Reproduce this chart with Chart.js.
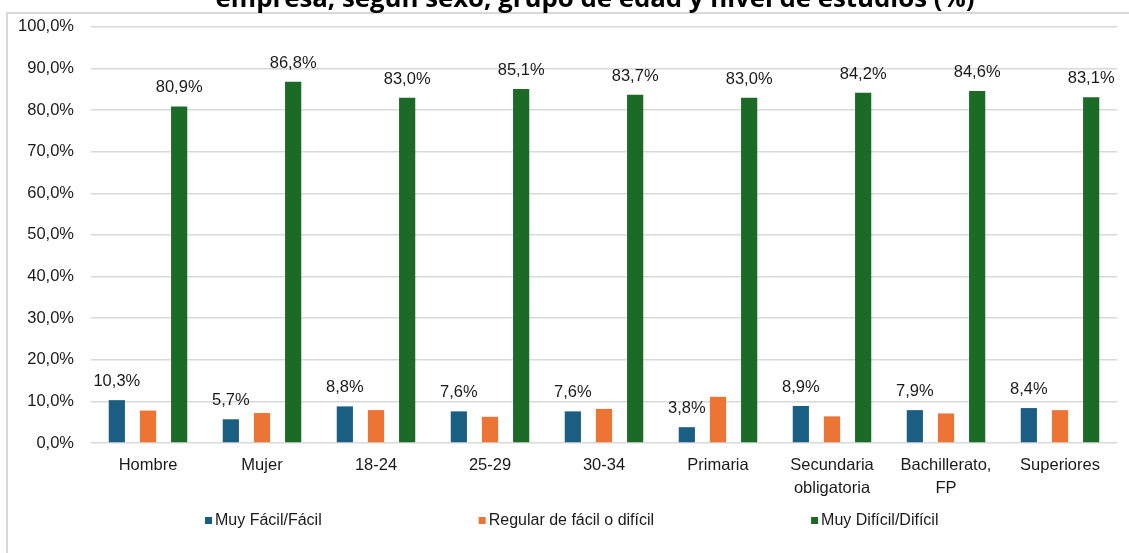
<!DOCTYPE html>
<html>
<head>
<meta charset="utf-8">
<script src="https://cdn.jsdelivr.net/npm/chart.js@4"></script>
<style>
  html, body { margin: 0; padding: 0; background: #fff; }
  #wrap { position: relative; width: 1129px; height: 553px; }
</style>
</head>
<body>
<div id="wrap"><canvas id="chart" width="1129" height="553"></canvas></div>
<script>
const titleLine = 'empresa, según sexo, grupo de edad y nivel de estudios (%)';
const categories = ['Hombre', 'Mujer', '18-24', '25-29', '30-34', 'Primaria',
  ['Secundaria', 'obligatoria'], ['Bachillerato,', 'FP'], 'Superiores'];
const seriesNames = ['Muy Fácil/Fácil', 'Regular de fácil o difícil', 'Muy Difícil/Difícil'];
const facil = [10.3, 5.7, 8.8, 7.6, 7.6, 3.8, 8.9, 7.9, 8.4];
const regular = [7.8, 7.2, 7.9, 6.3, 8.2, 11.1, 6.4, 7.1, 7.9];
const dificil = [80.9, 86.8, 83.0, 85.1, 83.7, 83.0, 84.2, 84.6, 83.1];
const showValues = [true, false, true];
const colors = ['#1a5f82', '#ec7434', '#1b6b27'];

const FONT = '"Liberation Sans", Arial, sans-serif';
const TEXT = '#1a1a1a';
const pct = v => v.toFixed(1).replace('.', ',') + '%';

// frame, clipped title line, custom legend and value labels
const decor = {
  id: 'decor',
  beforeDraw(chart) {
    const ctx = chart.ctx;
    ctx.save();
    ctx.strokeStyle = '#d9d9d9';
    ctx.lineWidth = 2;
    ctx.beginPath();
    ctx.moveTo(1129, 13);
    ctx.lineTo(7, 13);
    ctx.lineTo(7, 553);
    ctx.stroke();

    ctx.fillStyle = '#000';
    ctx.font = 'bold 20px "Open Sans", sans-serif';
    const w = ctx.measureText(titleLine).width;
    const size = 20 * 760 / w;
    ctx.font = 'bold ' + size.toFixed(1) + 'px "Open Sans", sans-serif';
    ctx.textAlign = 'center';
    ctx.textBaseline = 'alphabetic';
    ctx.fillText(titleLine, 595, 7);
    ctx.restore();
  },
  afterDatasetsDraw(chart) {
    const ctx = chart.ctx;
    ctx.save();
    ctx.font = '16.5px ' + FONT;
    ctx.fillStyle = TEXT;
    ctx.textAlign = 'center';
    ctx.textBaseline = 'alphabetic';
    chart.data.datasets.forEach((ds, di) => {
      if (!showValues[di]) return;
      chart.getDatasetMeta(di).data.forEach((bar, i) => {
        ctx.fillText(pct(ds.data[i]), bar.x, bar.y - 14);
      });
    });

    // legend row
    ctx.font = '16px ' + FONT;
    ctx.textAlign = 'left';
    ctx.textBaseline = 'middle';
    let x = 205;
    const y = 521;
    chart.data.datasets.forEach(ds => {
      ctx.fillStyle = ds.backgroundColor;
      ctx.fillRect(x, y - 4, 7, 7);
      ctx.fillStyle = TEXT;
      ctx.fillText(ds.label, x + 10, y);
      x += 10 + ctx.measureText(ds.label).width + 157;
    });
    ctx.restore();
  }
};

new Chart(document.getElementById('chart'), {
  type: 'bar',
  data: {
    labels: categories,
    datasets: [facil, regular, dificil].map((d, i) => ({
      label: seriesNames[i],
      data: d,
      backgroundColor: colors[i],
      categoryPercentage: 0.82,
      barPercentage: 0.52
    }))
  },
  options: {
    responsive: false,
    animation: false,
    layout: { padding: { top: 24, right: 12, left: 0, bottom: 0 } },
    plugins: {
      legend: { display: false },
      title: { display: false },
      tooltip: { enabled: false }
    },
    scales: {
      x: {
        grid: { display: false, drawTicks: false },
        border: { display: false },
        ticks: {
          color: TEXT,
          font: { family: FONT, size: 16.5, lineHeight: 1.4 },
          padding: 11,
          maxRotation: 0
        },
        afterFit(scale) { scale.height = 110; }
      },
      y: {
        min: 0,
        max: 100,
        grid: { color: '#d9d9d9', lineWidth: 1.5, drawTicks: false },
        border: { display: false },
        ticks: {
          stepSize: 10,
          color: TEXT,
          font: { family: FONT, size: 16.5 },
          padding: 17,
          callback: v => pct(v)
        },
        afterFit(scale) { scale.width = 91; }
      }
    }
  },
  plugins: [decor]
});
</script>
</body>
</html>
